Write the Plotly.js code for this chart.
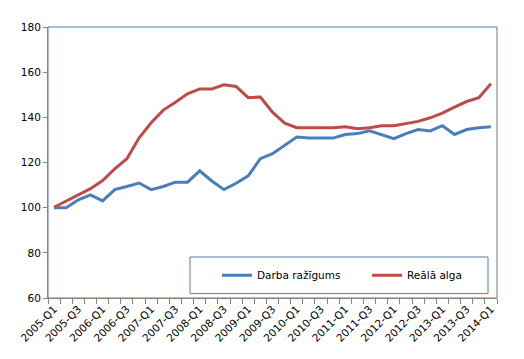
<!DOCTYPE html>
<html>
<head>
<meta charset="utf-8">
<script src="https://cdn.plot.ly/plotly-3.0.1.min.js"></script>
<style>html,body{margin:0;padding:0;background:#fff;}#chart{width:524px;height:359px;}</style>
</head>
<body>
<div id="chart"></div>
<script>
const quarters = [
  "2005-Q1","2005-Q2","2005-Q3","2005-Q4",
  "2006-Q1","2006-Q2","2006-Q3","2006-Q4",
  "2007-Q1","2007-Q2","2007-Q3","2007-Q4",
  "2008-Q1","2008-Q2","2008-Q3","2008-Q4",
  "2009-Q1","2009-Q2","2009-Q3","2009-Q4",
  "2010-Q1","2010-Q2","2010-Q3","2010-Q4",
  "2011-Q1","2011-Q2","2011-Q3","2011-Q4",
  "2012-Q1","2012-Q2","2012-Q3","2012-Q4",
  "2013-Q1","2013-Q2","2013-Q3","2013-Q4",
  "2014-Q1"
];
const tickLabels = [
  "2005-Q1","2005-Q3","2006-Q1","2006-Q3","2007-Q1","2007-Q3","2008-Q1","2008-Q3",
  "2009-Q1","2009-Q3","2010-Q1","2010-Q3","2011-Q1","2011-Q3","2012-Q1","2012-Q3",
  "2013-Q1","2013-Q3","2014-Q1"
];
const darbaRazigums = [
  100, 100, 103.5, 105.7,
  103, 108, 109.4, 110.9,
  108, 109.4, 111.3, 111.3,
  116.3, 111.8, 108, 110.8,
  114.1, 121.7, 123.9, 127.6,
  131.3, 130.8, 130.8, 130.8,
  132.4, 132.8, 134, 132.4,
  130.6, 132.8, 134.6, 134,
  136.3, 132.4, 134.6, 135.4,
  135.8
];
const realaAlga = [
  100.2, 103, 105.7, 108.4,
  112, 117.2, 121.7, 130.8,
  137.6, 143.2, 146.7, 150.4,
  152.6, 152.6, 154.4, 153.7,
  148.7, 149, 142.3, 137.4,
  135.4, 135.4, 135.4, 135.4,
  135.8, 135, 135.4, 136.3,
  136.3, 137.2, 138.2, 139.8,
  141.9, 144.5, 147, 148.7,
  154.9
];
const seriesNames = ["Darba ražīgums", "Reālā alga"];

const xIdx = quarters.map((q, i) => i);
const tickIdx = tickLabels.map(t => quarters.indexOf(t));

const font = {family: "DejaVu Sans, Verdana, sans-serif", size: 10.5, color: "#000"};

const traces = [
  {x: xIdx, y: darbaRazigums, name: seriesNames[0], type: "scatter", mode: "lines",
   line: {color: "#4A7EBB", width: 3}},
  {x: xIdx, y: realaAlga, name: seriesNames[1], type: "scatter", mode: "lines",
   line: {color: "#BE4B48", width: 3}}
];

const layout = {
  width: 524, height: 359,
  margin: {l: 48, r: 27, t: 27, b: 61, autoexpand: false},
  paper_bgcolor: "#fff", plot_bgcolor: "#fff",
  font: font,
  showlegend: true,
  legend: {orientation: "h", x: 0.3764, xanchor: "left", y: 0.084, yanchor: "middle",
           bgcolor: "rgba(0,0,0,0)", borderwidth: 0, font: font,
           entrywidth: 105, entrywidthmode: "pixels", itemwidth: 30},
  xaxis: {
    range: [-0.5, quarters.length - 0.5],
    tickmode: "array", tickvals: tickIdx, ticktext: tickLabels,
    tickangle: -45, ticks: "", showgrid: false, zeroline: false,
    showline: true, linecolor: "#868686", linewidth: 1,
    minor: {tickmode: "linear", tick0: -0.5, dtick: 1, ticks: "outside", ticklen: 5,
            tickcolor: "#868686", tickwidth: 1, showgrid: false},
    tickfont: font, fixedrange: true, automargin: false
  },
  yaxis: {
    range: [60, 180], tickmode: "linear", tick0: 60, dtick: 20,
    ticks: "outside", ticklen: 4, tickcolor: "#868686",
    showgrid: false, zeroline: false,
    showline: true, linecolor: "#868686", linewidth: 1,
    tickfont: font, fixedrange: true, automargin: false
  },
  shapes: [
    {type: "rect", xref: "paper", yref: "paper", x0: 0, x1: 1, y0: 0, y1: 1,
     line: {color: "#5A7DA6", width: 1}, layer: "below"},
    {type: "rect", xref: "paper", yref: "paper",
     x0: (190 - 48) / 449, x1: (488 - 48) / 449, y0: (297.7 - 293.3) / 271, y1: (297.7 - 256.7) / 271,
     line: {color: "#5A7DA6", width: 1}, fillcolor: "#fff", layer: "below"}
  ]
};

Plotly.newPlot("chart", traces, layout, {displayModeBar: false, staticPlot: true});
</script>
</body>
</html>
